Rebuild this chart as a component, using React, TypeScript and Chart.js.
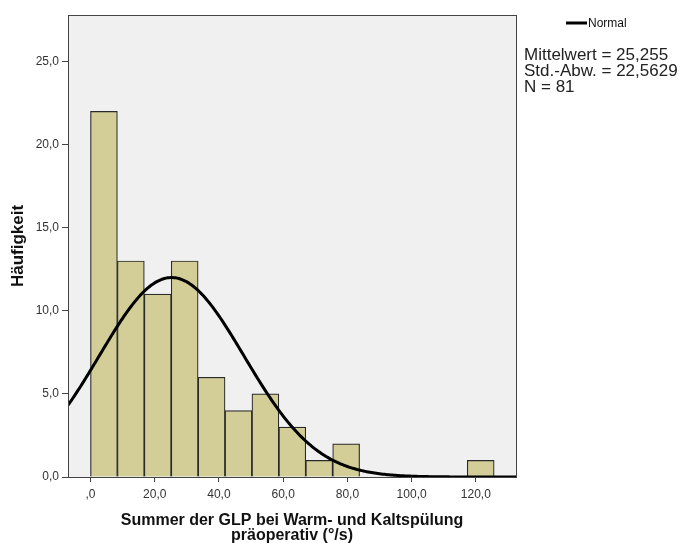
import React, { useEffect, useRef } from "react";
import { Chart, registerables } from "chart.js";

Chart.register(...registerables);

// Histogram bins: lower edge of the first bin, bin width and counts per bin
const BIN_START = 0;
const BIN_WIDTH = 8.38;
const COUNTS = [22, 13, 11, 13, 6, 4, 5, 3, 1, 2, 0, 0, 0, 0, 1];

// Fitted normal distribution
const MEAN = 25.255;
const SD = 22.5629;
const N = 81;

// Axis ticks
const X_TICKS = [0, 20, 40, 60, 80, 100, 120];
const Y_TICKS = [0, 5, 10, 15, 20, 25];
const X_MIN = -7;
const X_MAX = 132.5;
const Y_MAX = 27.8;

const X_TITLE = ["Summer der GLP bei Warm- und Kaltspülung", "präoperativ (°/s)"];
const Y_TITLE = "Häufigkeit";
const LEGEND_LABEL = "Normal";
const STATS_LINES = ["Mittelwert = 25,255", "Std.-Abw. = 22,5629", "N = 81"];

const FONT = "'Liberation Sans', Arial, Helvetica, sans-serif";

// German decimal comma; the x axis drops the leading zero (",0")
const fmtX = (v: number) => (v === 0 ? ",0" : v.toFixed(1).replace(".", ","));
const fmtY = (v: number) => v.toFixed(1).replace(".", ",");

function normalCurve() {
  const pts: { x: number; y: number }[] = [];
  const k = (N * BIN_WIDTH) / (SD * Math.sqrt(2 * Math.PI));
  for (let x = X_MIN; x <= X_MAX + 1e-9; x += 0.5) {
    const z = (x - MEAN) / SD;
    pts.push({ x, y: k * Math.exp(-0.5 * z * z) });
  }
  return pts;
}

const frame = {
  id: "frame",
  beforeDatasetsDraw(chart: any) {
    const { ctx, chartArea: a } = chart;
    ctx.save();
    ctx.fillStyle = "#F0F0F0";
    ctx.fillRect(a.left, a.top, a.right - a.left, a.bottom - a.top);
    ctx.restore();
  },
  afterDraw(chart: any) {
    const { ctx, chartArea: a } = chart;
    ctx.save();
    ctx.strokeStyle = "#444";
    ctx.lineWidth = 1;
    ctx.strokeRect(Math.round(a.left) + 0.5, Math.round(a.top) + 0.5, Math.round(a.right - a.left), Math.round(a.bottom - a.top));

    // legend for the normal curve
    ctx.strokeStyle = "#000";
    ctx.lineWidth = 3;
    ctx.beginPath();
    ctx.moveTo(566, 23);
    ctx.lineTo(587, 23);
    ctx.stroke();
    ctx.fillStyle = "#111";
    ctx.font = `12px ${FONT}`;
    ctx.textBaseline = "alphabetic";
    ctx.textAlign = "left";
    ctx.fillText(LEGEND_LABEL, 588, 27);

    // summary statistics
    ctx.font = `17px ${FONT}`;
    ctx.fillStyle = "#222";
    STATS_LINES.forEach((t, i) => ctx.fillText(t, 524, 60 + i * 16));
    ctx.restore();
  },
};

export default function App() {
  const ref = useRef<HTMLCanvasElement>(null);

  useEffect(() => {
    if (!ref.current) return;
    const bars = COUNTS.map((c, i) => ({ x: BIN_START + (i + 0.5) * BIN_WIDTH, y: c }));
    const chart = new Chart(ref.current, {
      type: "bar",
      data: {
        datasets: [
          {
            type: "line",
            data: normalCurve(),
            borderColor: "#000",
            borderWidth: 3,
            pointRadius: 0,
            tension: 0,
            order: 0,
          } as any,
          {
            type: "bar",
            data: bars,
            backgroundColor: "#D3CE97",
            borderColor: "#2a2a2a",
            borderWidth: 1.2,
            barPercentage: 1,
            categoryPercentage: 1,
            order: 1,
          } as any,
        ],
      },
      options: {
        animation: false,
        responsive: false,
        devicePixelRatio: 1,
        layout: { padding: { left: 0, top: 15, right: 169, bottom: 0 } },
        plugins: { legend: { display: false }, tooltip: { enabled: false } },
        scales: {
          x: {
            type: "linear",
            min: X_MIN,
            max: X_MAX,
            offset: false,
            afterBuildTicks: (s: any) => {
              s.ticks = X_TICKS.map((v) => ({ value: v }));
            },
            afterFit: (s: any) => {
              s.height = 66;
            },
            grid: { offset: false, drawOnChartArea: false, drawTicks: true, tickLength: 5, color: "#444" },
            border: { display: true, color: "#444", width: 1 },
            ticks: {
              font: { family: FONT, size: 12 },
              color: "#333",
              padding: 5,
              maxRotation: 0,
              callback: (v: any) => fmtX(Number(v)),
            },
            title: {
              display: true,
              text: X_TITLE,
              font: { family: FONT, size: 16, weight: "bold", lineHeight: 0.94 },
              color: "#111",
              padding: { top: 0, bottom: 0 },
            },
          },
          y: {
            type: "linear",
            min: 0,
            max: Y_MAX,
            afterBuildTicks: (s: any) => {
              s.ticks = Y_TICKS.map((v) => ({ value: v }));
            },
            afterFit: (s: any) => {
              s.width = 68;
            },
            grid: { drawOnChartArea: false, drawTicks: true, tickLength: 6, color: "#444" },
            border: { display: true, color: "#444", width: 1 },
            ticks: {
              font: { family: FONT, size: 12 },
              color: "#333",
              padding: 3,
              callback: (v: any) => fmtY(Number(v)),
            },
            title: {
              display: true,
              text: Y_TITLE,
              font: { family: FONT, size: 17, weight: "bold", lineHeight: 1 },
              color: "#111",
              padding: { top: 10, bottom: 0 },
            },
          },
        },
      },
      plugins: [frame],
    });
    return () => chart.destroy();
  }, []);

  return (
    <div style={{ position: "absolute", left: 0, top: 0, width: 685, height: 543, background: "#fff" }}>
      <canvas ref={ref} width={685} height={543} style={{ display: "block" }} />
    </div>
  );
}
